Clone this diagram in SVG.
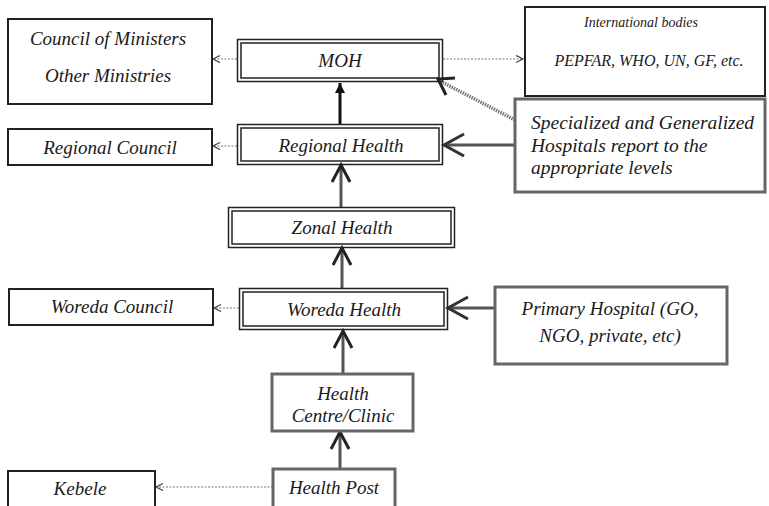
<svg xmlns="http://www.w3.org/2000/svg" width="769" height="506" viewBox="0 0 769 506">
<defs>
<style>
.box{fill:#fff;stroke:#222;stroke-width:2}
.gbox{fill:#fff;stroke:#666;stroke-width:3}
.dbl{fill:none;stroke:#222;stroke-width:1.5}
text{font-family:"Liberation Serif","DejaVu Serif",serif;font-style:italic;fill:#1a1a1a;text-anchor:middle;dominant-baseline:central}
.t{font-size:19px}
.dot{stroke:#777;stroke-width:1.2;stroke-dasharray:2 1.5;fill:none}
.conn{stroke:#555;stroke-width:3;fill:none}
</style>
<marker id="big" markerUnits="userSpaceOnUse" markerWidth="26" markerHeight="28" refX="22" refY="12" orient="auto" viewBox="0 0 26 28">
<path d="M2,1 L22,12 L2,23" fill="none" stroke="#333" stroke-width="3"/>
</marker>
<marker id="mid" markerUnits="userSpaceOnUse" markerWidth="22" markerHeight="24" refX="18" refY="10" orient="auto" viewBox="0 0 22 24">
<path d="M1,1 L18,10 L1,19" fill="none" stroke="#222" stroke-width="3"/>
</marker>
<marker id="sm" markerUnits="userSpaceOnUse" markerWidth="10" markerHeight="10" refX="8" refY="4" orient="auto" viewBox="0 0 10 10">
<path d="M1,0.5 L8,4 L1,7.5" fill="none" stroke="#444" stroke-width="1.3"/>
</marker>
<marker id="fill" markerUnits="userSpaceOnUse" markerWidth="12" markerHeight="12" refX="10" refY="5" orient="auto" viewBox="0 0 12 12">
<path d="M0,0 L10,5 L0,10 z" fill="#111"/>
</marker>
</defs>

<g id="connectors">
<line class="dot" x1="237" y1="59" x2="213" y2="59" marker-end="url(#sm)"/>
<line class="dot" x1="443" y1="59" x2="523" y2="59" marker-end="url(#sm)"/>
<line class="dot" x1="237" y1="146" x2="213" y2="146" marker-end="url(#sm)"/>
<line class="dot" x1="239" y1="308" x2="214" y2="308" marker-end="url(#sm)"/>
<line class="dot" x1="273" y1="487" x2="156" y2="487" marker-end="url(#sm)"/>
<line x1="340" y1="124" x2="340" y2="83" stroke="#111" stroke-width="3" marker-end="url(#fill)"/>
<line class="conn" x1="341" y1="207" x2="341" y2="165" marker-end="url(#mid)"/>
<line class="conn" x1="342" y1="288" x2="342" y2="248" marker-end="url(#mid)"/>
<line class="conn" x1="343" y1="374" x2="343" y2="331" marker-end="url(#mid)"/>
<line class="conn" x1="340" y1="469" x2="340" y2="432" marker-end="url(#mid)"/>
<line class="conn" x1="515" y1="145" x2="444" y2="145" marker-end="url(#big)"/>
<line class="conn" x1="495" y1="308" x2="448" y2="308" marker-end="url(#big)"/>
<line x1="515" y1="120" x2="438" y2="80" stroke="#777" stroke-width="3.5" stroke-dasharray="1.5 1"/>
<path d="M455,78 L438,79 L446,95" fill="none" stroke="#222" stroke-width="3"/>
</g>

<g id="council">
<rect class="box" x="8" y="19" width="204" height="85"/>
<text class="t" x="108" y="38">Council of Ministers</text>
<text class="t" x="108" y="75">Other Ministries</text>
</g>

<g id="moh">
<rect class="dbl" x="237.5" y="39.5" width="205" height="42"/>
<rect class="dbl" x="241" y="43" width="198" height="35"/>
<text class="t" x="340" y="60">MOH</text>
</g>

<g id="international">
<rect class="box" x="525" y="7" width="240" height="89"/>
<text x="641" y="22" font-size="14">International bodies</text>
<text x="649" y="60" font-size="16">PEPFAR, WHO, UN, GF, etc.</text>
</g>

<g id="specialized">
<rect class="gbox" x="515" y="99" width="250" height="93"/>
<text class="t" x="531" y="122" style="text-anchor:start;font-size:19.5px">Specialized and Generalized</text>
<text class="t" x="531" y="145" style="text-anchor:start;font-size:19.5px">Hospitals report to  the</text>
<text class="t" x="531" y="167" style="text-anchor:start;font-size:19.5px">appropriate levels</text>
</g>

<g id="regional-council">
<rect class="box" x="8" y="129" width="204" height="36"/>
<text class="t" x="110" y="147">Regional Council</text>
</g>

<g id="regional-health">
<rect class="dbl" x="237.5" y="124.5" width="205" height="40"/>
<rect class="dbl" x="241" y="128" width="198" height="33"/>
<text class="t" x="341" y="145">Regional Health</text>
</g>

<g id="zonal-health">
<rect class="dbl" x="228.5" y="207.5" width="226" height="40"/>
<rect class="dbl" x="232" y="211" width="219" height="33"/>
<text class="t" x="342" y="227">Zonal Health</text>
</g>

<g id="woreda-council">
<rect class="box" x="9" y="289" width="204" height="36"/>
<text class="t" x="112" y="306">Woreda Council</text>
</g>

<g id="woreda-health">
<rect class="dbl" x="239.5" y="288.5" width="208" height="41"/>
<rect class="dbl" x="243" y="292" width="201" height="34"/>
<text class="t" x="344" y="309">Woreda Health</text>
</g>

<g id="primary-hospital">
<rect class="gbox" x="495" y="287" width="232" height="77"/>
<text class="t" x="610" y="308">Primary Hospital (GO,</text>
<text class="t" x="610" y="335">NGO, private, etc)</text>
</g>

<g id="health-centre">
<rect class="gbox" x="272" y="374" width="141" height="57"/>
<text class="t" x="343" y="393">Health</text>
<text class="t" x="343" y="415">Centre/Clinic</text>
</g>

<g id="health-post">
<rect class="gbox" x="273" y="469" width="122" height="40"/>
<text class="t" x="334" y="487">Health Post</text>
</g>

<g id="kebele">
<rect class="box" x="8" y="471" width="147" height="40"/>
<text class="t" x="80" y="488">Kebele</text>
</g>
</svg>
